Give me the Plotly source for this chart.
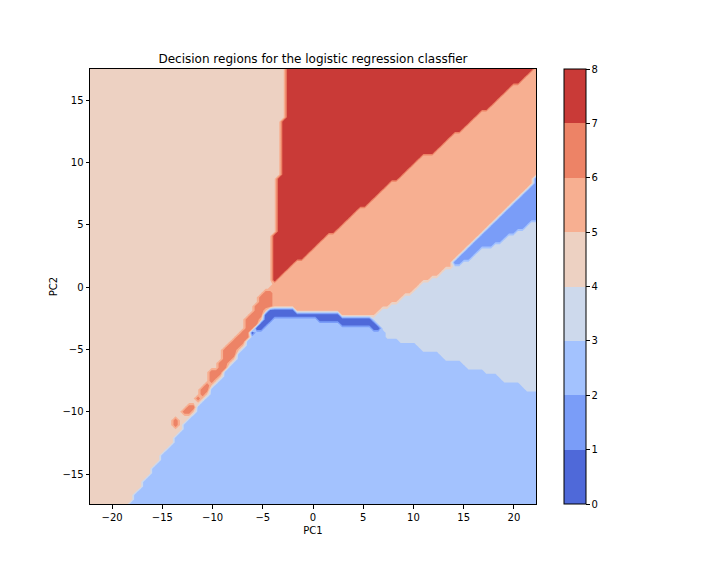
# --- Import stuff ---
import numpy as np
import plotly.graph_objects as go

# --- Values ---
# one entry per grid column (100 columns), y of the top edge of each region
blue_top = [None]*9 + [
    -17.1, -16.6, -16.1, -15.6, -15.0, -14.5, -14.0, -13.5, -13.0, -12.5,
    -12.0, -11.5, -11.0, -10.6, -10.1, -9.6, -9.1, -8.6, -8.2, -7.7,
    -7.2, -6.7, -6.2, -5.8, -5.3, -4.8, -4.3, -3.9, -3.55, -3.3,
    -3.0, -2.7, -2.5, -2.35, -2.3, -2.3, -2.3, -2.3, -2.3, -2.3,
    -2.3, -2.5, -2.7, -2.7, -2.7, -2.7, -2.7, -3.05, -3.05, -3.05,
    -3.05, -3.05, -3.05, -3.2, -3.4, -3.4, -3.45, -4.1, -4.1, -4.1,
    -4.4, -4.4, -4.4, -4.7, -4.9, -5.15, -5.2, -5.2, -5.2, -5.5,
    -5.85, -5.9, -5.9, -6.1, -6.3, -6.5, -6.5, -6.5, -6.75, -6.9,
    -6.9, -7.05, -7.3, -7.6, -7.6, -7.6, -7.8, -8.0, -8.25, -8.25, -8.25]

dark_top = [None]*35 + [
    -4.1, -3.6, -3.05, -2.65, -1.9,
    -1.75, -1.75, -1.75, -1.75, -1.75, -1.75,
    -2.1, -2.1, -2.1, -2.1, -2.1, -2.1, -2.1, -2.1, -2.1, -2.1,
    -2.4, -2.4, -2.4, -2.4, -2.4, -2.4, -2.4, -2.65, -3.05] + [None]*35

gray_top = [None]*63 + [
    -2.5, -2.15, -1.75, -1.6, -1.35, -1.2, -0.95, -0.8, -0.55, -0.4,
    -0.1, 0.3, 0.5, 0.65, 0.7, 1.05, 1.35, 1.6, 1.85, 1.9,
    2.05, 2.3, 2.6, 2.75, 3.05, 3.2, 3.35, 3.55, 3.75, 4.0,
    4.15, 4.4, 4.65, 4.8, 5.15, 5.2, 5.2]

mid_top = [None]*81 + [
    2.2, 2.6, 3.0, 3.3, 3.65, 3.95, 4.35, 4.65, 5.05, 5.35,
    5.75, 6.1, 6.5, 6.8, 7.2, 7.55, 7.95, 8.25, 9.0]

peach_top = [None]*40 + [
    -0.12, 0.23, 0.58, 0.94, 1.29, 1.64, 2.0, 2.0, 2.35, 2.7,
    3.05, 3.4, 3.76, 4.11, 4.11, 4.46, 4.81, 5.17, 5.52, 5.87,
    6.22, 6.22, 6.58, 6.93, 7.28, 7.63, 7.99, 8.34, 8.34, 8.69,
    9.04, 9.4, 9.75, 10.1, 10.45, 10.45, 10.45, 10.81, 11.16, 11.51,
    11.87, 12.22, 12.22, 12.57, 12.92, 13.27, 13.63, 13.98, 13.98, 14.33,
    14.69, 15.04, 15.39, 15.74, 16.1, 16.1, 16.45, 16.8, 17.15, 18.0]

red_top = [None]*40 + [-0.12, 4.3, 9.0, 13.55] + [None]*56

# the salmon strip and its small islands along the diagonal
salmon_cols = [19, 21, 22, 23, 24, 25, 26, 27, 28, 29, 30, 31, 32, 33, 34, 35, 36, 37, 38, 39, 40]
salmon_high = [-10.6, -9.9, -9.45, -9.3, -8.75, -8.0, -7.85, -6.75, -6.5, -6.0,
               -5.05, -4.65, -4.25, -3.8, -3.3, -2.5, -1.9, -1.2, -0.65, -0.25, -0.4]
salmon_low = [-11.25, -10.15, -10.05, -9.7, -9.15, -8.85, -8.45, -7.7, -7.45, -6.85,
              -6.5, -6.0, -5.6, -5.05, -4.6, -4.05, -3.6, -3.05, -2.5, -1.85, -1.6]

# value of each region, picked so the in-between bands stay thin
dark_z, mid_z, blue_z, gray_z = 0.05, 1.05, 2.5, 3.3
beige_z, peach_z, salmon_z, red_z = 4.95, 5.05, 6.9, 7.95

band_colors = ["#4f69d9", "#7a9df8", "#a3c2fe", "#cdd9ec",
               "#edd1c2", "#f7af91", "#ed8366", "#c93a37"]
colorbar_ticks = [0, 1, 2, 3, 4, 5, 6, 7, 8]

# --- Build the class grid ---
x = np.linspace(-22.2, 22.2, 100)
y = np.linspace(-17.4, 17.5, 100)

def region_value(col, row_y):
    if blue_top[col] is not None and row_y <= blue_top[col]:
        return blue_z
    if dark_top[col] is not None and row_y <= dark_top[col]:
        return dark_z
    if col in salmon_cols:
        k = salmon_cols.index(col)
        if salmon_low[k] <= row_y <= salmon_high[k]:
            return salmon_z
    if gray_top[col] is not None and row_y <= gray_top[col]:
        return gray_z
    if mid_top[col] is not None and row_y <= mid_top[col]:
        return mid_z
    if peach_top[col] is not None:
        if row_y <= peach_top[col]:
            return peach_z
        if red_top[col] is None or row_y <= red_top[col]:
            return red_z
    return beige_z

Z = [[region_value(col, row_y) for col in range(len(x))] for row_y in y]

# hard edged colour scale, one flat colour per level band
n_bands = len(band_colors)
colorscale = []
for k, c in enumerate(band_colors):
    colorscale.append([k / n_bands, c])
    colorscale.append([(k + 1) / n_bands, c])

# --- Plotting it all ---
fig = go.Figure(data = [go.Contour(x = x, y = y, z = Z,
                                   zmin = 0, zmax = 8,
                                   autocontour = False,
                                   contours = dict(start = 0, end = 8, size = 1, coloring = 'fill'),
                                   line = dict(width = 0, smoothing = 0),
                                   colorscale = colorscale,
                                   colorbar = dict(tickvals = colorbar_ticks,
                                                   ticks = 'outside', ticklen = 3.5, tickwidth = 1,
                                                   tickcolor = 'black',
                                                   thickness = 22, len = 1,
                                                   x = 1.0628, xanchor = 'left',
                                                   xpad = 0, ypad = 0,
                                                   outlinecolor = 'black', outlinewidth = 1,
                                                   tickfont = dict(size = 10, color = 'black')),
                                   hoverinfo = 'skip',
                                   )])

axis_style = dict(showgrid = False, zeroline = False, showline = True, mirror = True,
                  linecolor = 'black', linewidth = 1,
                  ticks = 'outside', ticklen = 3.5, tickwidth = 1, tickcolor = 'black',
                  tickfont = dict(size = 10, color = 'black'))

# the page has an 8px body margin, so everything sits 8px in from the window corner
fig.update_layout(
    title = dict(text = "Decision regions for the logistic regression classfier",
                 x = 305 / 712, xanchor = 'center',
                 y = 1 - 51 / 568, yanchor = 'middle',
                 font = dict(size = 12, color = 'black')),
    xaxis = dict(title = dict(text = "PC1", standoff = 5, font = dict(size = 10, color = 'black')),
                 range = [-22.2, 22.2], tickvals = [-20, -15, -10, -5, 0, 5, 10, 15, 20], **axis_style),
    yaxis = dict(title = dict(text = "PC2", standoff = 2, font = dict(size = 10, color = 'black')),
                 range = [-17.4, 17.5], tickvals = [-15, -10, -5, 0, 5, 10, 15], **axis_style),
    font = dict(family = "DejaVu Sans", color = 'black'),
    width = 712, height = 568,
    margin = dict(l = 82, r = 184, b = 72, t = 61, autoexpand = False),
    paper_bgcolor = 'white', plot_bgcolor = 'white',
    )

fig.write_html("out.html")
